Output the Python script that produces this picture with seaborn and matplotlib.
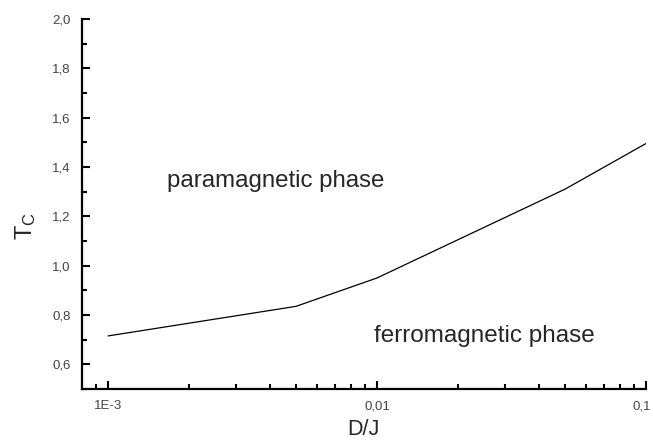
import numpy as np
import pandas as pd
import matplotlib
matplotlib.use('Agg')
import matplotlib.pyplot as plt
import matplotlib.transforms as mtransforms
import seaborn as sns
from matplotlib.ticker import FixedLocator, FixedFormatter, LogLocator, NullFormatter

# valores
dj = [0.001, 0.005, 0.01, 0.05, 0.1]
tc = [0.715, 0.835, 0.95, 1.31, 1.495]

xticks = [0.001, 0.01, 0.1]
xlabels = ['1E-3', '0,01', '0,1']
yticks = [0.6, 0.8, 1.0, 1.2, 1.4, 1.6, 1.8, 2.0]
ylabels = ['0,6', '0,8', '1,0', '1,2', '1,4', '1,6', '1,8', '2,0']
yminor = [0.5, 0.7, 0.9, 1.1, 1.3, 1.5, 1.7, 1.9]

df = pd.DataFrame({'D/J': dj, 'Tc': tc})

sns.set_style('ticks')
plt.rcParams['font.family'] = ['Liberation Sans', 'DejaVu Sans']
plt.rcParams['mathtext.default'] = 'regular'

fig = plt.figure(figsize=(6.53, 4.44), dpi=100)
ax = fig.add_axes([0.1256, 0.124, 0.8634, 0.833])

sns.lineplot(x='D/J', y='Tc', data=df, ax=ax, color='black', linewidth=0.9)

ax.set_xscale('log')
ax.set_xlim(0.0008, 0.1)
ax.set_ylim(0.5, 2.0)

ax.xaxis.set_major_locator(FixedLocator(xticks))
ax.xaxis.set_major_formatter(FixedFormatter(xlabels))
ax.xaxis.set_minor_locator(LogLocator(base=10, subs=np.arange(2, 10)))
ax.xaxis.set_minor_formatter(NullFormatter())
ax.yaxis.set_major_locator(FixedLocator(yticks))
ax.yaxis.set_major_formatter(FixedFormatter(ylabels))
ax.yaxis.set_minor_locator(FixedLocator(yminor))

for s in ['top', 'right']:
    ax.spines[s].set_visible(False)
for s in ['left', 'bottom']:
    ax.spines[s].set_linewidth(1.6)
    ax.spines[s].set_color('black')

ax.tick_params(which='major', direction='in', length=6, width=1.5, colors='black',
               labelcolor='#444444', labelsize=9.5, pad=8)
ax.tick_params(which='minor', direction='in', length=3.5, width=1.5, colors='black')

# o ultimo rotulo fica colado na borda, puxa um pouco para a esquerda
ultimo = ax.xaxis.get_majorticklabels()[-1]
ultimo.set_transform(ultimo.get_transform() +
                     mtransforms.ScaledTranslation(-3 / 72, 0, fig.dpi_scale_trans))

ax.set_xlabel('D/J', fontsize=15.5)
ax.xaxis.set_label_coords(0.5, -0.082)
ax.set_ylabel('T$_C$', fontsize=17)
ax.yaxis.set_label_coords(-0.078, 0.44)

ax.text(0.00421, 1.345, 'paramagnetic phase', fontsize=17.3, ha='center', va='center')
ax.text(0.0252, 0.713, 'ferromagnetic phase', fontsize=17.5, ha='center', va='center')

plt.savefig('out.png', dpi=100)
